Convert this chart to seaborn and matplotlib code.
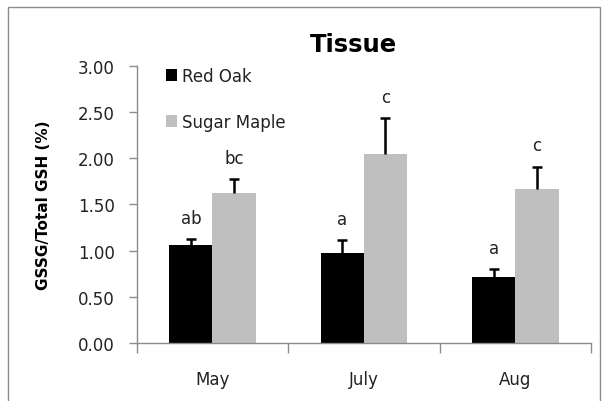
import numpy as np
import pandas as pd
import seaborn as sns
import matplotlib
matplotlib.use("Agg")
from matplotlib import pyplot as plt
from matplotlib.patches import Rectangle
from matplotlib.ticker import FixedLocator

# data
months = ["May", "July", "Aug"]
species = ["Red Oak", "Sugar Maple"]
red_oak = [1.06, 0.98, 0.71]
sugar_maple = [1.62, 2.05, 1.67]
red_oak_se = [0.07, 0.14, 0.09]
sugar_maple_se = [0.15, 0.38, 0.24]
red_oak_letters = ["ab", "a", "a"]
sugar_maple_letters = ["bc", "c", "c"]
yticks = [0.0, 0.5, 1.0, 1.5, 2.0, 2.5, 3.0]

df = pd.DataFrame({
    "Month": months * 2,
    "Species": [species[0]] * 3 + [species[1]] * 3,
    "Value": red_oak + sugar_maple,
})

sns.set_style("white")
plt.rcParams['font.family'] = ['DejaVu Sans']

fig = plt.figure(figsize=(6.05, 4.02), dpi=100)
ax = fig.add_axes([0.226, 0.144, 0.751, 0.690])

sns.barplot(data=df, x="Month", y="Value", hue="Species", order=months,
            hue_order=species, palette=["#000000", "#bfbfbf"],
            width=0.57, saturation=1, ax=ax, linewidth=0, errorbar=None)

# one-sided error bars (upper only) and significance letters
errs = [red_oak_se, sugar_maple_se]
letters = [red_oak_letters, sugar_maple_letters]
for cont, err, lab in zip(ax.containers, errs, letters):
    xs = [b.get_x() + b.get_width() / 2 for b in cont]
    ys = [b.get_height() for b in cont]
    eb = ax.errorbar(xs, ys, yerr=[np.zeros(len(err)), err], fmt='none',
                     ecolor='black', elinewidth=1.8, capsize=3.4, capthick=1.8)
    eb[1][0].set_visible(False)  # hide the lower cap
    for x, y, e, t in zip(xs, ys, err, lab):
        ax.text(x, y + e + 0.13, t, ha='center', va='bottom',
                fontsize=12, color='#222222')

ax.set_xlim(-0.5, 2.5)
ax.set_ylim(0, 3.0)
ax.set_yticks(yticks)
ax.set_yticklabels([f"{v:.2f}" for v in yticks], fontsize=12, color='#222222')

# boundary ticks between categories, labels at the centers
ax.xaxis.set_major_locator(FixedLocator([-0.5, 0.5, 1.5, 2.5]))
ax.xaxis.set_minor_locator(FixedLocator([0, 1, 2]))
ax.set_xticklabels([], minor=False)
ax.set_xticklabels(months, minor=True, fontsize=12, color='#222222')
ax.tick_params(axis='x', which='major', direction='out', length=7,
               color='#8c8c8c', width=1, bottom=True)
ax.tick_params(axis='x', which='minor', length=0, pad=19, bottom=True)
ax.tick_params(axis='y', direction='out', length=6, color='#8c8c8c',
               width=1, left=True, pad=10)

for s in ['top', 'right']:
    ax.spines[s].set_visible(False)
for s in ['left', 'bottom']:
    ax.spines[s].set_color('#8c8c8c')
    ax.spines[s].set_linewidth(1)

ax.set_xlabel("")
ax.set_ylabel("GSSG/Total GSH (%)", fontsize=11, fontweight='bold',
              labelpad=19, color='black')

leg = ax.legend(loc='upper left', bbox_to_anchor=(0.064, 0.995), frameon=False,
                fontsize=12, handlelength=0.7, handleheight=0.7,
                handletextpad=0.3, labelspacing=1.65, borderpad=0,
                borderaxespad=0)
for t in leg.get_texts():
    t.set_color('#222222')

fig.text(0.585, 0.888, "Tissue", ha='center', va='center', fontsize=17.5,
         fontweight='bold', color='black')

# chart-area border, open at the bottom as in the reference
fig.patches.append(Rectangle((0.013, -0.05), 0.978, 1.03,
                             transform=fig.transFigure, fill=False,
                             edgecolor='#8c8c8c', linewidth=1))

fig.savefig("out.png", dpi=100)
